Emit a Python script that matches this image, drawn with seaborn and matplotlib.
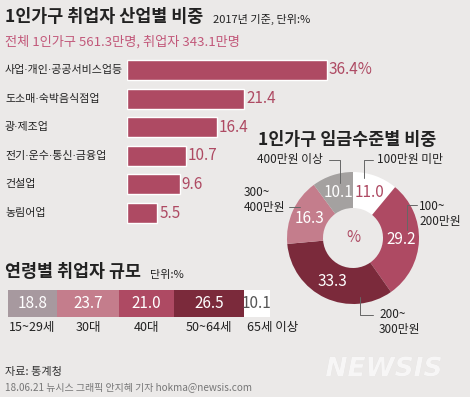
import matplotlib
matplotlib.use("Agg")
import matplotlib.pyplot as plt
import matplotlib.transforms as mtransforms
import matplotlib.patheffects as pe
import numpy as np
import pandas as pd
import seaborn as sns

# ---------------- data ----------------
industry_labels = ["사업·개인·공공서비스업등", "도소매·숙박음식점업", "광·제조업",
                   "전기·운수·통신·금융업", "건설업", "농림어업"]
industry_values = [36.4, 21.4, 16.4, 10.7, 9.6, 5.5]

wage_labels = ["100만원 미만", "100~\n200만원", "200~\n300만원", "300~\n400만원", "400만원 이상"]
wage_values = [11.0, 29.2, 33.3, 16.3, 10.1]

age_labels = ["15~29세", "30대", "40대", "50~64세", "65세 이상"]
age_values = [18.8, 23.7, 21.0, 26.5, 10.1]

# ---------------- style ----------------
sns.set_theme(style="white")
plt.rcParams["font.family"] = ["Noto Sans CJK KR", "DejaVu Sans"]

BG = "#ebe9e8"
MAG = "#ae4a63"
DARK = "#7b2a3b"
PINK = "#c47d8c"
GRAY = "#a4a1a0"
MAUVE = "#a7999f"
TXT = "#222222"
LINE = "#666666"

W, H = 470, 397
fig = plt.figure(figsize=(W / 100, H / 100), dpi=100, facecolor=BG)


def px_axes(x0, y0, x1, y1):
    """axes from pixel box (top-left origin)"""
    return fig.add_axes([x0 / W, 1 - y1 / H, (x1 - x0) / W, (y1 - y0) / H])


# ---------------- industry bar chart ----------------
ax1 = px_axes(127, 55.7, 470, 227.3)
df_ind = pd.DataFrame({"label": industry_labels, "value": industry_values})
sns.barplot(data=df_ind, x="value", y="label", orient="h", color=MAG,
            saturation=1, width=0.7, ax=ax1)
ax1.set_xlim(0, 343 / 5.49)
ax1.set_ylim(5.5, -0.5)
ax1.set_facecolor("none")
ax1.axis("off")
for i, v in enumerate(industry_values):
    lab = f"{v}%" if i == 0 else f"{v}"
    ax1.text(v + 0.35, i, lab, va="center", ha="left", color=MAG, fontsize=11)

# ---------------- donut ----------------
cx, cy, R = 353, 238, 66
ax3 = px_axes(cx - R, cy - R, cx + R, cy + R)
wedges, _ = ax3.pie(wage_values, colors=["#ffffff", MAG, DARK, PINK, GRAY],
                    startangle=90, counterclock=False,
                    wedgeprops=dict(width=36 / 66, linewidth=0))
ax3.set_xlim(-1, 1)
ax3.set_ylim(-1, 1)
ax3.set_aspect("equal")
rlab = (1 + 30 / 66) / 2
for k, (w, v) in enumerate(zip(wedges, wage_values)):
    ang = np.deg2rad((w.theta1 + w.theta2) / 2)
    col = MAG if k == 0 else "white"
    ax3.text(rlab * np.cos(ang), rlab * np.sin(ang), f"{v:.1f}", ha="center",
             va="center", color=col, fontsize=11)
ax3.text(0, 0, "%", ha="center", va="center", color=MAG, fontsize=11)

# ---------------- age stacked bar ----------------
ax2 = px_axes(8, 290, 270, 317)
left = 0.0
age_colors = [MAUVE, PINK, MAG, DARK, "#ffffff"]
total = sum(age_values)
for i, (v, c) in enumerate(zip(age_values, age_colors)):
    ax2.barh(0, v, left=left, height=1, color=c, linewidth=0)
    tc = "white" if i < 4 else "#555555"
    ax2.text(left + v / 2, 0, f"{v:.1f}", ha="center", va="center", color=tc, fontsize=11)
    if i < 4:
        ax2.text(left + v / 2, -0.88, age_labels[i], ha="center", va="center",
                 color=TXT, fontsize=9)
    else:
        ax2.text(left + 1.5, -0.88, age_labels[i], ha="left", va="center",
                 color=TXT, fontsize=9)
    left += v
ax2.set_xlim(0, total)
ax2.set_ylim(-0.5, 0.5)
ax2.set_facecolor("none")
ax2.axis("off")

# ---------------- overlay: titles, labels, leader lines ----------------
ax0 = fig.add_axes([0, 0, 1, 1])
ax0.set_xlim(0, W)
ax0.set_ylim(H, 0)
ax0.axis("off")
ax0.set_facecolor("none")

ax0.text(5, 17, "1인가구 취업자 산업별 비중", fontsize=12.5, fontweight="bold",
         color=TXT, va="center", ha="left")
ax0.text(213, 19, "2017년 기준, 단위:%", fontsize=8, color=TXT, va="center", ha="left")
ax0.text(5, 42, "전체 1인가구 561.3만명, 취업자 343.1만명", fontsize=9.5,
         color="#c2587a", va="center", ha="left")

# industry category labels (DejaVu first for the narrow middle dot)
tr = mtransforms.blended_transform_factory(ax0.transData, ax1.transData)
for i, lab in enumerate(industry_labels):
    ax0.text(5, i, lab, transform=tr, fontsize=7.9, color=TXT, va="center", ha="left",
             family=["DejaVu Sans", "Noto Sans CJK KR"])

# donut title & labels
ax0.text(258, 140, "1인가구 임금수준별 비중", fontsize=12.5, fontweight="bold",
         color=TXT, va="center", ha="left")
lk = dict(fontsize=8.5, color=TXT, va="center", linespacing=1.3)
ax0.text(257, 160, wage_labels[4], ha="left", **lk)
ax0.plot([329, 340, 340], [160, 160, 183], color=LINE, lw=0.7)
ax0.text(377, 160, wage_labels[0], ha="left", **lk)
ax0.plot([373, 364, 364], [160, 160, 178], color=LINE, lw=0.7)
ax0.text(419, 214, wage_labels[1], ha="left", **lk)
ax0.plot([417, 407, 407], [205, 205, 230], color=LINE, lw=0.7)
ax0.text(244, 200, wage_labels[3], ha="left", **lk)
ax0.plot([289, 300], [207, 207], color=LINE, lw=0.7)
ax0.text(379, 322, wage_labels[2], ha="left", **lk)
ax0.plot([360, 360, 373], [297, 315, 315], color=LINE, lw=0.7)

# age title
ax0.text(5, 272, "연령별 취업자 규모", fontsize=12.5, fontweight="bold",
         color=TXT, va="center", ha="left")
ax0.text(150, 275, "단위:%", fontsize=8, color=TXT, va="center", ha="left")

# footer
ax0.text(5, 372, "자료: 통계청", fontsize=8, color="#333333", va="center", ha="left")
ax0.text(5, 387, "18.06.21 뉴시스 그래픽 안지혜 기자 hokma@newsis.com", fontsize=7.2,
         color="#777777", va="center", ha="left")
ax0.text(384, 369, "NEWSIS", fontsize=19, fontweight="bold", fontstyle="italic",
         family="DejaVu Sans", color="#f7f6f6", va="center", ha="center",
         path_effects=[pe.withSimplePatchShadow(offset=(0, 0), shadow_rgbFace="#cfcccb",
                                                 alpha=0.6)])

fig.savefig("out.png", dpi=100, facecolor=BG)
